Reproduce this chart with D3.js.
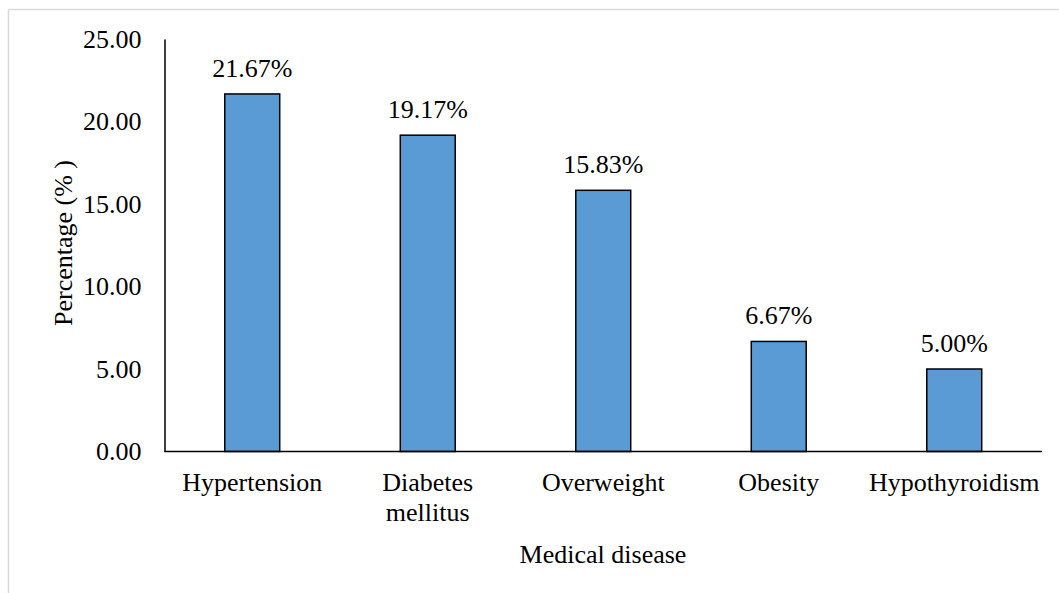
<!DOCTYPE html>
<html><head><meta charset="utf-8">
<script src="https://cdn.jsdelivr.net/npm/d3@7"></script>
<style>body{margin:0;background:#fff}svg{display:block}</style>
</head><body>
<svg id="c" width="1059" height="593"></svg>
<script>
const categories = [["Hypertension"], ["Diabetes", "mellitus"], ["Overweight"], ["Obesity"], ["Hypothyroidism"]];
const values = [21.67, 19.17, 15.83, 6.67, 5.00];
const yTicks = [0, 5, 10, 15, 20, 25];
const yTitle = "Percentage (% )";
const xTitle = "Medical disease";

const svg = d3.select("#c");
const font = "'Liberation Serif', 'Times New Roman', serif";
const fs = 26;
const mLeft = 164.5, mRight = 1042, mTop = 39, mBottom = 451.5;

// outer frame (top & left edges visible)
svg.append("line").attr("x1", 8.5).attr("x2", 1059).attr("y1", 9.5).attr("y2", 9.5).attr("stroke", "#d9d9d9").attr("stroke-width", 1.5);
svg.append("line").attr("x1", 8.5).attr("x2", 8.5).attr("y1", 9.5).attr("y2", 593).attr("stroke", "#d9d9d9").attr("stroke-width", 1.5);

const keys = categories.map(c => c.join(" "));
const x = d3.scaleBand().domain(keys).range([mLeft, mRight]).paddingInner(0.687).paddingOuter(0.3435);
const y = d3.scaleLinear().domain([0, 25]).range([mBottom, mTop]);

// bars
svg.append("g").selectAll("rect").data(values).join("rect")
  .attr("x", (d, i) => x(keys[i]))
  .attr("width", x.bandwidth())
  .attr("y", d => y(d))
  .attr("height", d => y(0) - y(d))
  .attr("fill", "#5b9bd5").attr("stroke", "#000").attr("stroke-width", 1.5);

// data labels
svg.append("g").selectAll("text").data(values).join("text")
  .attr("x", (d, i) => x(keys[i]) + x.bandwidth() / 2)
  .attr("y", d => y(d) - 17)
  .attr("text-anchor", "middle").attr("font-family", font).attr("font-size", fs).attr("fill", "#000")
  .text(d => d.toFixed(2) + "%");

// y axis
const yAxis = svg.append("g").attr("transform", `translate(${mLeft},0)`)
  .call(d3.axisLeft(y).tickValues(yTicks).tickSize(0).tickPadding(23).tickFormat(d => d.toFixed(2)));
yAxis.select(".domain").attr("stroke", "#000").attr("stroke-width", 1.5);
yAxis.selectAll("text").attr("font-family", font).attr("font-size", fs).attr("fill", "#000");

// x axis
const xAxis = svg.append("g").attr("transform", `translate(0,${mBottom})`)
  .call(d3.axisBottom(x).tickSize(0).tickPadding(0));
xAxis.select(".domain").attr("d", `M${mLeft},0H${mRight}`).attr("stroke", "#000").attr("stroke-width", 1.5);
xAxis.selectAll(".tick text").each(function(k, i) {
  const t = d3.select(this).text(null).attr("font-family", font).attr("font-size", fs).attr("fill", "#000").attr("dy", null).attr("y", 0);
  categories[i].forEach((line, j) => {
    t.append("tspan").attr("x", 0).attr("y", 39.5 + j * 30).text(line);
  });
});

// titles
svg.append("text").attr("x", 603).attr("y", 563).attr("text-anchor", "middle")
  .attr("font-family", font).attr("font-size", fs).attr("fill", "#000").text(xTitle);
svg.append("text").attr("transform", `translate(72,243) rotate(-90)`).attr("text-anchor", "middle")
  .attr("font-family", font).attr("font-size", fs).attr("fill", "#000").text(yTitle);
</script>
</body></html>
